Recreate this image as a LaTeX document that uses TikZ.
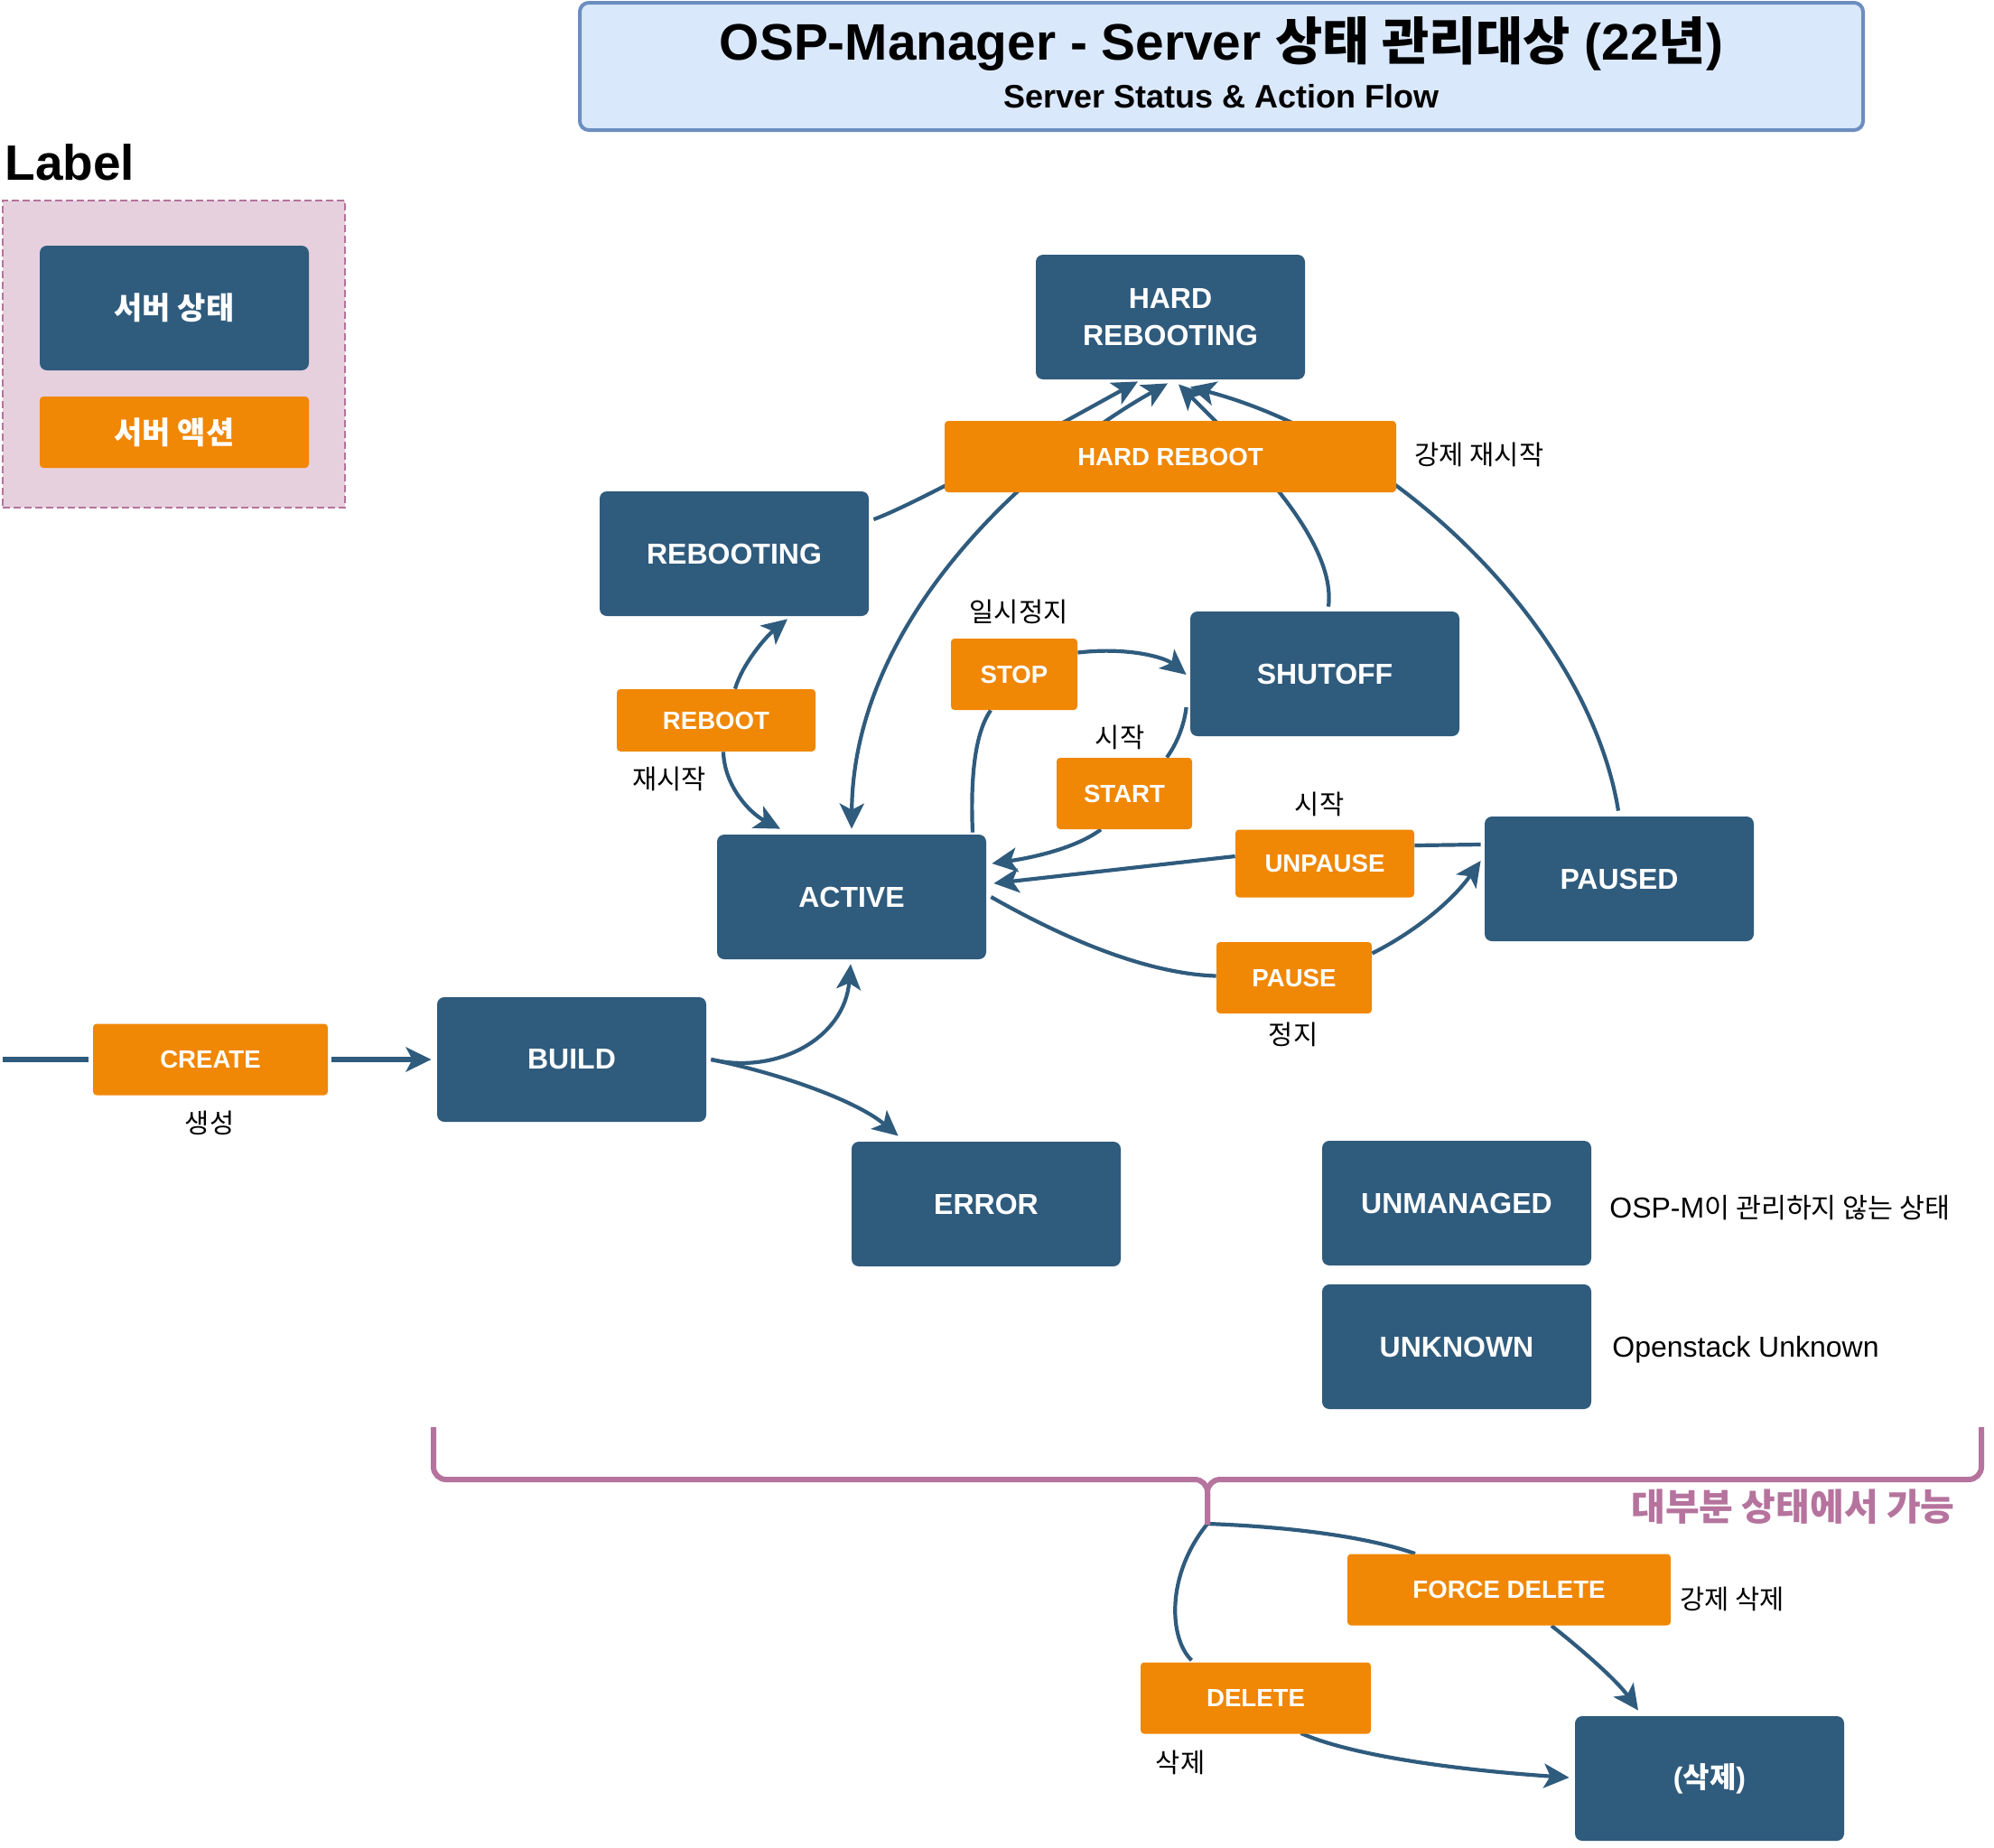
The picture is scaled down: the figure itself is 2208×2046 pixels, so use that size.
\documentclass[tikz,border=0pt]{standalone}
\usepackage{fontspec}
\setmainfont{Liberation Sans}
\newfontfamily\kr{Noto Sans CJK KR}
\usetikzlibrary{arrows.meta,calc,backgrounds}
\definecolor{sblue}{HTML}{2F5B7D}
\definecolor{aorange}{HTML}{F08705}
\definecolor{pinkc}{HTML}{B5739D}
\definecolor{legfill}{HTML}{E6D0DE}
\definecolor{tfill}{HTML}{DAE8FC}
\definecolor{tborder}{HTML}{6C8EBF}
\begin{document}
\begin{tikzpicture}[x=0.5pt,y=-0.5pt,
  state/.style={fill=sblue, rounded corners=4pt, text=white, font=\fontsize{16}{20.5}\selectfont\bfseries, align=center, minimum width=149pt, minimum height=69pt, inner sep=0pt},
  act/.style={fill=aorange, rounded corners=2pt, text=white, font=\fontsize{13.8}{16}\selectfont\bfseries, inner sep=0pt, minimum height=39.5pt},
  lbl/.style={font=\fontsize{14.8}{17}\selectfont\kr, inner sep=0pt},
  edge/.style={draw=sblue, line width=2.1pt},
  arr/.style={edge, -{Stealth[length=14pt,width=13.5pt,inset=3.5pt]}},
]
\useasboundingbox (0,0) rectangle (2208,2046);

% title
\node[draw=tborder, fill=tfill, line width=2pt, rounded corners=5pt, minimum width=710.5pt, minimum height=70.5pt, inner sep=0pt] (title) at (1352.5,73.5) {};
\node[font=\fontsize{28.4}{32}\selectfont\bfseries, inner sep=0pt] (titletxt) at (1352.5,49) {OSP-Manager - Server {\kr 상태 관리대상} (22{\kr 년})};
\node[font=\fontsize{18}{22}\selectfont\bfseries, inner sep=0pt] (subtxt) at (1352.5,107) {Server Status \& Action Flow};

% legend
\node[anchor=west, font=\fontsize{27.5}{31}\selectfont\bfseries, inner sep=0pt] (labeltxt) at (5,180) {Label};
\node[draw=pinkc, fill=legfill, dashed, dash pattern=on 4pt off 2pt, line width=1pt, minimum width=189.5pt, minimum height=170pt, inner sep=0pt] (legend) at (192.5,392) {};
\node[state, font=\fontsize{17}{20}\selectfont\kr\bfseries] (lstate) at (193,341) {서버 상태};
\node[act, minimum width=149pt, font=\fontsize{17}{20}\selectfont\kr\bfseries] (laction) at (193,478.5) {서버 액션};

% states
\node[state] (HRB) at (1296,351) {HARD\\REBOOTING};
\node[state] (RBING) at (813,613) {REBOOTING};
\node[state] (SHUT) at (1467,746) {SHUTOFF};
\node[state] (ACTIVE) at (943,993) {ACTIVE};
\node[state] (PAUSED) at (1793,973) {PAUSED};
\node[state] (BUILD) at (633,1173) {BUILD};
\node[state] (ERROR) at (1092,1333) {ERROR};
\node[state] (UNM) at (1613,1332) {UNMANAGED};
\node[state] (UNK) at (1613,1491) {UNKNOWN};
\node[state, font=\fontsize{16}{20}\selectfont\bfseries] (DEL) at (1893,1969) {({\kr 삭제})};

% actions
\node[act, minimum width=250pt] (HR) at (1296,505.5) {HARD REBOOT};
\node[act, minimum width=70pt] (STOP) at (1123,746.5) {STOP};
\node[act, minimum width=110pt, minimum height=34.5pt] (REBOOT) at (793,797.5) {REBOOT};
\node[act, minimum width=75pt] (START) at (1245,878.5) {START};
\node[act, minimum width=99pt, minimum height=37.5pt] (UNPAUSE) at (1467,956) {UNPAUSE};
\node[act, minimum width=86pt] (PAUSE) at (1433,1082.5) {PAUSE};
\node[act, minimum width=130pt] (CREATE) at (233,1173) {CREATE};
\node[act, minimum width=179pt] (FDEL) at (1671,1760) {FORCE DELETE};
\node[act, minimum width=127.5pt] (DELA) at (1390.5,1880) {DELETE};

% text labels
\node[lbl] (t1) at (1638,503) {강제 재시작};
\node[lbl] (t2) at (1128,677) {일시정지};
\node[lbl] (t3) at (1240,816) {시작};
\node[lbl] (t4) at (741,862) {재시작};
\node[lbl] (t5) at (1461,890) {시작};
\node[lbl] (t6) at (1432,1145) {정지};
\node[lbl] (t7) at (232,1243) {생성};
\node[anchor=west, inner sep=0pt, font=\fontsize{16}{19}\selectfont] (t8) at (1782,1337) {OSP-M{\kr\fontsize{15.2}{17}\selectfont 이 관리하지 않는 상태}};
\node[anchor=west, inner sep=0pt, font=\fontsize{16}{19}\selectfont] (t9) at (1785,1494) {Openstack Unknown};
\node[lbl] (t10) at (1918,1770) {강제 삭제};
\node[lbl] (t11) at (1307,1951) {삭제};
\node[anchor=east, inner sep=0pt, text=pinkc, font=\fontsize{20.5}{24}\selectfont\kr\bfseries] (t12) at (2165,1668) {대부분 상태에서 가능};

% brace
\draw[pinkc, line width=3pt, rounded corners=7pt] (480,1580) -- (480,1638) -- (1337,1638) -- (1337,1688);
\draw[pinkc, line width=3pt, rounded corners=7pt] (2194,1580) -- (2194,1638) -- (1337,1638) -- (1337,1688);
\coordinate (btip) at (1337,1687);
\coordinate (lstart) at (3,1173);

\begin{pgfonlayer}{background}
\draw[edge, line width=2.8pt] (lstart) -- ($(CREATE.west)+(-5,0)$);
\draw[arr, line width=2.8pt] ($(CREATE.east)+(4,0)$) -- ($(BUILD.west)+(-6,0)$);
\draw[arr] ($(BUILD.east)+(5,0)$) .. controls (860,1190) and (935,1150) .. ($(ACTIVE.south)+(-1,5)$);
\draw[arr] ($(BUILD.east)+(5,0)$) .. controls (870,1190) and (950,1220) .. ($(ERROR.north west)+(52,-6)$);
\draw[arr] ($(REBOOT.north)+(21,0)$) .. controls (822,735) and (848,705) .. ($(RBING.south)+(59,3)$);
\draw[arr] ($(REBOOT.south)+(8,0)$) .. controls (802,870) and (830,900) .. ($(ACTIVE.north)+(-79,-6)$);
\draw[edge, {Stealth[length=14pt,width=13.5pt,inset=3.5pt]}-{Stealth[length=14pt,width=13.5pt,inset=3.5pt]}] ($(HRB.south)+(-3,4)$) .. controls (1150,505) and (945,680) .. ($(ACTIVE.north)+(0,-6)$);
\draw[arr] ($(RBING.east)+(5,-38)$) .. controls (1020,556) and (1200,455) .. ($(HRB.south)+(-36,2)$);
\draw[arr] ($(SHUT.north)+(4,-5)$) .. controls (1480,600) and (1385,505) .. ($(HRB.south)+(9,5)$);
\draw[arr] ($(PAUSED.north)+(-1,-6)$) .. controls (1760,700) and (1550,490) .. ($(HRB.south)+(22,8)$);
\draw[edge] ($(ACTIVE.north)+(134,-2)$) .. controls (1074,850) and (1082,808) .. ($(STOP.south)+(-26,0)$);
\draw[arr] ($(STOP.east)+(0,-24)$) .. controls (1250,716) and (1290,728) .. ($(SHUT.west)+(-4,1)$);
\draw[edge] ($(SHUT.west)+(-4,37)$) .. controls (1311,805) and (1302,825) .. ($(START.north)+(47,0)$);
\draw[arr] ($(START.south)+(-26,0)$) .. controls (1190,940) and (1140,950) .. ($(ACTIVE.east)+(6,-37)$);
\draw[edge] ($(PAUSED.west)+(-4,-38)$) -- ($(UNPAUSE.east)+(0,-20)$);
\draw[arr] ($(UNPAUSE.west)+(0,-8)$) -- ($(ACTIVE.east)+(8,-15)$);
\draw[edge] ($(ACTIVE.east)+(5,0)$) .. controls (1180,1040) and (1270,1078) .. ($(PAUSE.west)+(0,-2)$);
\draw[arr] ($(PAUSE.east)+(0,-27)$) .. controls (1570,1030) and (1610,995) .. ($(PAUSED.west)+(-4,-20)$);
\draw[edge] (btip) .. controls (1290,1745) and (1295,1815) .. ($(DELA.north)+(-71,-2)$);
\draw[edge] (btip) .. controls (1420,1690) and (1510,1700) .. ($(FDEL.north)+(-104,0)$);
\draw[arr] ($(DELA.south)+(50,-1)$) .. controls (1500,1945) and (1620,1960) .. ($(DEL.west)+(-6,-1)$);
\draw[arr] ($(FDEL.south)+(47,0)$) .. controls (1750,1825) and (1790,1860) .. ($(DEL.north)+(-79,-6)$);
\end{pgfonlayer}
\end{tikzpicture}
\end{document}
